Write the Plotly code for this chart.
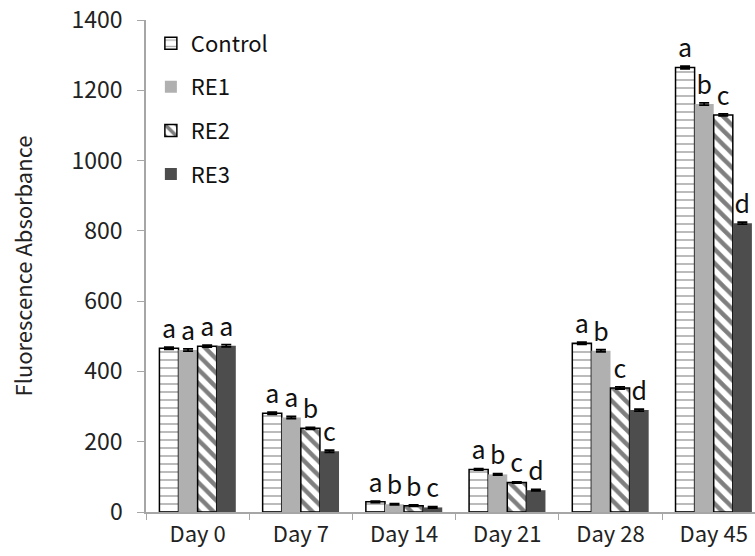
import plotly.graph_objects as go

categories = ["Day 0", "Day 7", "Day 14", "Day 21", "Day 28", "Day 45"]
series_names = ["Control", "RE1", "RE2", "RE3"]
control = [466, 281, 29, 121, 480, 1265]
re1 = [461, 269, 22, 107, 459, 1161]
re2 = [472, 238, 18, 84, 353, 1130]
re3 = [473, 173, 13, 62, 290, 822]
err_control = [3, 3, 2, 2, 3, 4]
err_re1 = [3, 3, 2, 2, 3, 3]
err_re2 = [3, 3, 2, 2, 3, 3]
err_re3 = [3, 3, 2, 2, 3, 3]
letters_control = ["a", "a", "a", "a", "a", "a"]
letters_re1 = ["a", "a", "b", "b", "b", "b"]
letters_re2 = ["a", "b", "b", "c", "c", "c"]
letters_re3 = ["a", "c", "c", "d", "d", "d"]
y_ticks = [0, 200, 400, 600, 800, 1000, 1200, 1400]

FONT = "Noto Sans CJK SC"
values = [control, re1, re2, re3]
errors = [err_control, err_re1, err_re2, err_re3]
letters = [letters_control, letters_re1, letters_re2, letters_re3]
styles = [
    dict(color="white", line=dict(color="black", width=1.5),
         pattern=dict(shape="-", fgcolor="#555555", bgcolor="white", size=8, solidity=0.2)),
    dict(color="#b0b0b0", line=dict(width=0)),
    dict(color="white", line=dict(color="black", width=1.5),
         pattern=dict(shape="\\", fgcolor="black", bgcolor="white", size=10, solidity=0.45)),
    dict(color="#4d4d4d", line=dict(width=0)),
]

fig = go.Figure()
for name, v, e, t, st in zip(series_names, values, errors, letters, styles):
    fig.add_trace(go.Bar(
        x=categories, y=v, name=name, legendgroup=name,
        marker=st,
        error_y=dict(type="data", array=e, visible=True, color="black", thickness=1.8, width=5),
        text=t, textposition="outside", constraintext="none", cliponaxis=False,
        textfont=dict(family=FONT, size=25, color="#111111"),
    ))

fig.update_layout(
    width=755, height=556,
    margin=dict(l=146, r=0, t=20, b=44, autoexpand=False),
    paper_bgcolor="white", plot_bgcolor="white",
    barmode="group", bargap=0.26, bargroupgap=0,
    font=dict(family=FONT, size=22, color="#222222"),
    legend=dict(x=0.008, y=0.995, xanchor="left", yanchor="top",
                font=dict(family=FONT, size=22, color="#111111"),
                tracegroupgap=12, bgcolor="rgba(0,0,0,0)", itemwidth=30),
    showlegend=True,
)
fig.update_xaxes(
    range=[-0.5, 5.4], automargin=False, showline=True, linecolor="#a6a6a6", linewidth=1.5,
    ticks="outside", ticklen=6, tickcolor="#a6a6a6", tickson="boundaries",
    showgrid=False, tickfont=dict(family=FONT, size=22, color="#222222"),
    ticklabelstandoff=2, ticklabeloverflow="allow",
)
fig.update_yaxes(
    range=[0, 1400], automargin=False, tickvals=y_ticks, showline=True, linecolor="#a6a6a6", linewidth=1.5,
    ticks="outside", ticklen=7, tickcolor="#a6a6a6", showgrid=False, zeroline=False,
    tickfont=dict(family=FONT, size=23, color="#222222"), ticklabelstandoff=10,
    ticklabeloverflow="allow",
    title=dict(text="Fluorescence Absorbance", font=dict(family=FONT, size=22, color="#222222"), standoff=33),
)
fig.write_html("out.html", config={"displayModeBar": False},
               post_script="document.body.style.margin='0';")
